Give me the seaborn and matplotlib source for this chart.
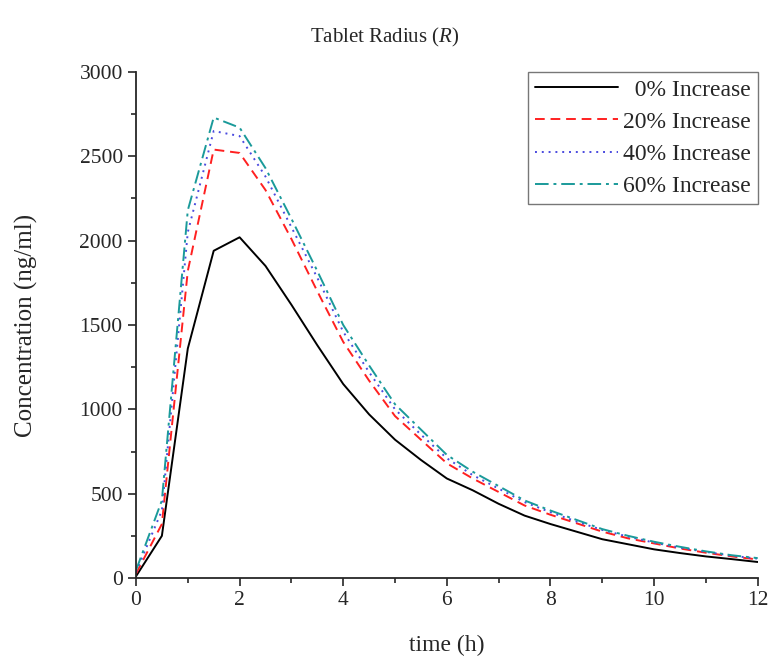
import numpy as np
import pandas as pd
import seaborn as sns
import matplotlib.pyplot as plt
from matplotlib.ticker import MultipleLocator

time_h = [0, 0.5, 1, 1.5, 2, 2.5, 3, 3.5, 4, 4.5, 5, 5.5, 6, 6.5, 7, 7.5,
          8, 8.5, 9, 9.5, 10, 10.5, 11, 11.5, 12]
inc_0 = [10, 250, 1360, 1940, 2020, 1850, 1620, 1380, 1150, 970, 820, 700, 590,
         520, 440, 370, 320, 275, 230, 200, 170, 148, 128, 112, 95]
inc_20 = [25, 320, 1820, 2540, 2520, 2300, 2010, 1700, 1400, 1170, 960, 820, 680,
          590, 510, 430, 375, 325, 275, 235, 205, 175, 150, 128, 110]
inc_40 = [35, 400, 2050, 2650, 2620, 2380, 2080, 1780, 1460, 1220, 1000, 850, 710,
          610, 530, 450, 390, 335, 285, 245, 210, 180, 155, 132, 115]
inc_60 = [45, 460, 2180, 2730, 2670, 2430, 2130, 1820, 1500, 1260, 1030, 880, 730,
          630, 545, 460, 400, 345, 290, 250, 215, 185, 158, 135, 118]
labels = ["  0% Increase", "20% Increase", "40% Increase", "60% Increase"]

df = pd.DataFrame({
    "time": time_h * 4,
    "conc": inc_0 + inc_20 + inc_40 + inc_60,
    "series": [l for l in labels for _ in time_h],
})

sns.set_style("ticks")
plt.rcParams["font.family"] = ["Liberation Serif", "DejaVu Serif"]
plt.rcParams["mathtext.fontset"] = "custom"
plt.rcParams["mathtext.it"] = "Liberation Serif:italic"
plt.rcParams["mathtext.rm"] = "Liberation Serif"

colors = {labels[0]: "#000000", labels[1]: "#ff2020",
          labels[2]: "#4a4adf", labels[3]: "#1a9a9a"}
dashes = {labels[0]: "", labels[1]: (5, 3), labels[2]: (1, 2.5),
          labels[3]: (7, 2.5, 1.5, 2.5)}

fig = plt.figure(figsize=(7.7, 6.64), dpi=100)
ax = fig.add_axes([0.1766, 0.1295, 0.8074, 0.7621])
sns.lineplot(data=df, x="time", y="conc", hue="series", style="series",
             palette=colors, dashes=dashes, linewidth=1.4, ax=ax)

ax.set_xlim(0, 12)
ax.set_ylim(0, 3000)
ax.xaxis.set_major_locator(MultipleLocator(2))
ax.xaxis.set_minor_locator(MultipleLocator(1))
ax.yaxis.set_major_locator(MultipleLocator(500))
ax.yaxis.set_minor_locator(MultipleLocator(250))
ax.tick_params(which="major", direction="out", length=6, width=1.2, labelsize=15.5)
ax.tick_params(which="minor", direction="out", length=3.5, width=1.2)
for s in ["left", "bottom"]:
    ax.spines[s].set_linewidth(1.3)
sns.despine(ax=ax)

ax.set_xlabel("time (h)", fontsize=17, labelpad=18)
ax.set_ylabel("Concentration (ng/ml)", fontsize=18, labelpad=30)
fig.text(0.5, 0.943, r"Tablet Radius ($\mathit{R}$)", fontsize=15,
         ha="center", va="center")

leg = ax.legend(loc="upper right", bbox_to_anchor=(1.0, 1.0), fontsize=17,
                frameon=True, fancybox=False, edgecolor="#555555",
                handlelength=3.5, handletextpad=0.2, borderpad=0.3,
                labelspacing=0.45, borderaxespad=0.0)
leg.get_frame().set_linewidth(1.0)

plt.savefig("out.png", dpi=100)
